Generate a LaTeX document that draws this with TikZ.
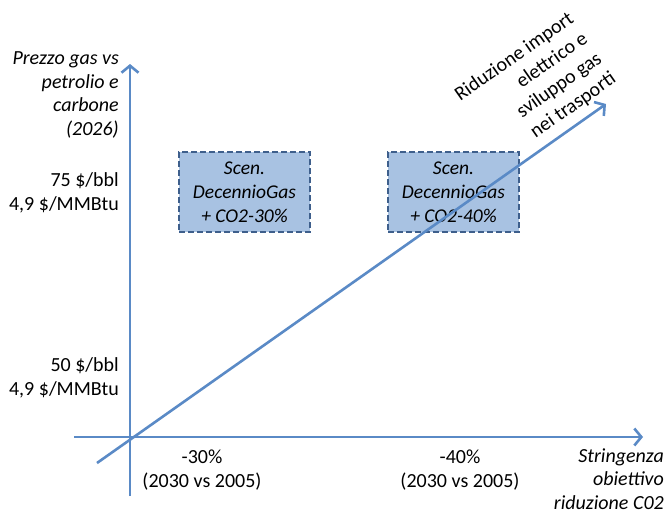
\documentclass[tikz,border=0pt]{standalone}
\usepackage{fontspec}
\setmainfont{Carlito}
\usetikzlibrary{arrows.meta}
\definecolor{axisblue}{HTML}{5A8AC6}
\definecolor{boxfill}{HTML}{A8C2E2}
\definecolor{boxline}{HTML}{3E5F8C}
\tikzset{
  axis/.style={draw=axisblue, line width=2.6pt, -{Straight Barb[length=7pt,width=17pt,line width=2.6pt]}},
  scenbox/.style={draw=boxline, fill=boxfill, line width=2.3pt, dash pattern=on 6pt off 3pt,
     minimum width=131pt, minimum height=80pt, inner sep=0pt, align=center,
     font=\fontsize{19.5}{24}\selectfont\itshape},
  lbl/.style={inner sep=0pt, font=\fontsize{20}{23.5}\selectfont},
}
\begin{document}
\begin{tikzpicture}[x=1pt,y=-1pt]
\useasboundingbox (0,0) rectangle (669,512);
% boxes
\node[scenbox] (s1) at (244.5,192) {Scen.\\DecennioGas\\+ CO2-30\%};
\node[scenbox] (s2) at (453.5,192) {Scen.\\DecennioGas\\+ CO2-40\%};
% axes
\coordinate (vb) at (130,496);
\coordinate (vt) at (130,64);
\coordinate (hl) at (74,437);
\coordinate (hr) at (643,437);
\coordinate (db) at (97,463);
\coordinate (dt) at (606,104);
\draw[axis] (vb) -- (vt);
\draw[axis] (hl) -- (hr);
\draw[axis] (db) -- (dt);
% labels
\node[lbl, anchor=east, align=right, font=\fontsize{20}{23.5}\selectfont\itshape] (ylab) at (119,95) {Prezzo gas vs\\petrolio e\\carbone\\(2026)};
\node[lbl, anchor=east, align=right] (p75) at (119,193) {75 \$/bbl\\4,9 \$/MMBtu};
\node[lbl, anchor=east, align=right] (p50) at (119,378) {50 \$/bbl\\4,9 \$/MMBtu};
\node[lbl, align=center] (x30) at (202,470) {-30\%\\(2030 vs 2005)};
\node[lbl, align=center] (x40) at (460,470) {-40\%\\(2030 vs 2005)};
\node[lbl, anchor=east, align=right, font=\fontsize{20}{23.5}\selectfont\itshape] (xlab) at (664,479) {Stringenza\\obiettivo\\riduzione C02};
\node[lbl, anchor=east, align=right, rotate=35, font=\fontsize{20}{24.5}\selectfont] (dlab) at (593,47) {Riduzione import\\elettrico e\\sviluppo gas\\nei trasporti};
\end{tikzpicture}
\end{document}
